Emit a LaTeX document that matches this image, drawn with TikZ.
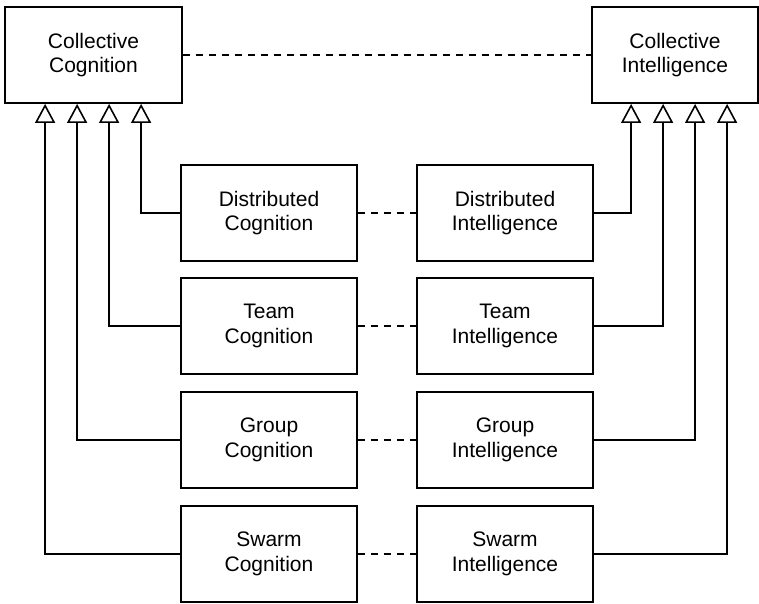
\documentclass[tikz,border=0pt]{standalone}
\usepackage{fontspec}
\setmainfont{Liberation Sans}
\usetikzlibrary{arrows.meta}
\begin{document}
\begin{tikzpicture}[x=1pt,y=-1pt,
  box/.style={draw, line width=1.8pt, fill=white, align=center, inner sep=0pt,
    font=\fontsize{21}{24.5}\selectfont, execute at begin node={\rule{0pt}{22pt}}},
  bigbox/.style={box, minimum height=96pt},
  midbox/.style={box, minimum width=176pt, minimum height=96pt},
  inh/.style={line width=1.8pt, -{Triangle[open, fill=white, length=19pt, width=20pt, line width=1.6pt]}},
  dsh/.style={line width=1.8pt, dash pattern=on 7pt off 6pt}]
\useasboundingbox (0,0) rectangle (759,603);
\node[bigbox, minimum width=177pt] (cc) at (93.5,55) {Collective\\Cognition};
\node[bigbox, minimum width=166pt] (ci) at (675,55) {Collective\\Intelligence};
\node[midbox] (dc) at (269,213) {Distributed\\Cognition};
\node[midbox] (tc) at (269,326) {Team\\Cognition};
\node[midbox] (gc) at (269,440) {Group\\Cognition};
\node[midbox] (sc) at (269,554) {Swarm\\Cognition};
\node[midbox] (di) at (505,213) {Distributed\\Intelligence};
\node[midbox] (ti) at (505,326) {Team\\Intelligence};
\node[midbox] (gi) at (505,440) {Group\\Intelligence};
\node[midbox] (si) at (505,554) {Swarm\\Intelligence};
\draw[dsh] (cc) -- (ci);
\draw[dsh] (dc) -- (di);
\draw[dsh] (tc) -- (ti);
\draw[dsh] (gc) -- (gi);
\draw[dsh] (sc) -- (si);
\draw[inh] (dc.west) -| ([xshift=137pt]cc.south west);
\draw[inh] (tc.west) -| ([xshift=105pt]cc.south west);
\draw[inh] (gc.west) -| ([xshift=73pt]cc.south west);
\draw[inh] (sc.west) -| ([xshift=41pt]cc.south west);
\draw[inh] (di.east) -| ([xshift=40pt]ci.south west);
\draw[inh] (ti.east) -| ([xshift=72pt]ci.south west);
\draw[inh] (gi.east) -| ([xshift=104pt]ci.south west);
\draw[inh] (si.east) -| ([xshift=136pt]ci.south west);
\end{tikzpicture}
\end{document}
